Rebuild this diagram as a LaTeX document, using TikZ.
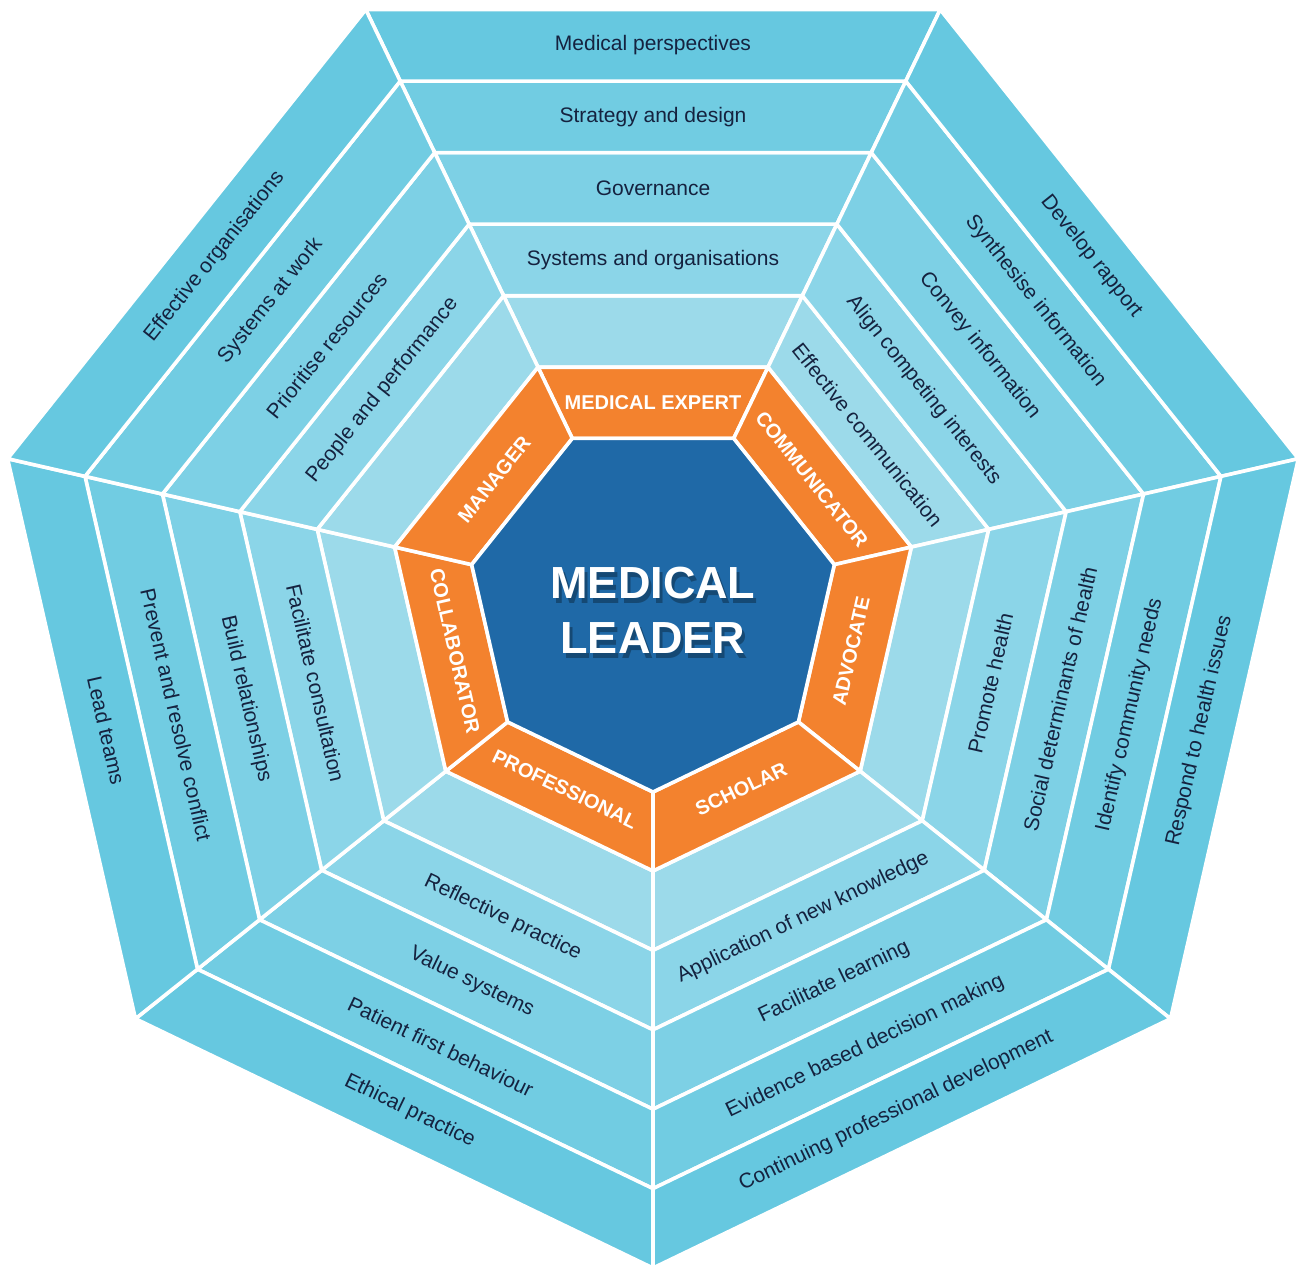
\documentclass[tikz,border=0pt]{standalone}
\usepackage{fontspec}
\setmainfont{Liberation Sans}

\definecolor{ring1}{HTML}{9CDAEA}
\definecolor{ring2}{HTML}{8BD5E8}
\definecolor{ring3}{HTML}{7DD0E5}
\definecolor{ring4}{HTML}{71CCE2}
\definecolor{ring5}{HTML}{66C8E0}
\definecolor{roleorange}{HTML}{F3822E}
\definecolor{leaderblue}{HTML}{1F69A7}
\definecolor{labelnavy}{HTML}{15223F}

\tikzset{
  band/.style={fill=#1, draw=white, line width=1.8pt, line join=miter},
  skill/.style={text=labelnavy, font=\fontsize{10.5}{12}\selectfont, inner sep=0pt},
  role/.style={text=white, font=\bfseries\fontsize{10}{12}\selectfont, inner sep=0pt},
  leader/.style={text=white, font=\bfseries\fontsize{22.5}{27.5}\selectfont, align=center, inner sep=0pt},
}

\begin{document}
\begin{tikzpicture}[x=0.5pt,y=0.5pt]
  \pgfmathsetmacro{\Rin}{186}
  \pgfmathsetmacro{\Ror}{265}
  \pgfmathsetmacro{\dR}{79.4}
  \pgfmathsetmacro{\half}{360/14}
  \useasboundingbox (-653,-659) rectangle (648,606);

  % rings of the seven sectors, orange roles inside
  \foreach \s in {0,...,6}{
    \pgfmathsetmacro{\mid}{90-\s*360/7}
    \foreach \i in {1,...,5}{
      \pgfmathsetmacro{\ra}{\Ror+(\i-1)*\dR}
      \pgfmathsetmacro{\rb}{\Ror+\i*\dR}
      \draw[band=ring\i] ({\mid+\half}:\ra) -- ({\mid-\half}:\ra) -- ({\mid-\half}:\rb) -- ({\mid+\half}:\rb) -- cycle;
    }
    \draw[band=roleorange] ({\mid+\half}:\Rin) -- ({\mid-\half}:\Rin) -- ({\mid-\half}:\Ror) -- ({\mid+\half}:\Ror) -- cycle;
  }
  \draw[band=leaderblue] ({90-\half}:\Rin) \foreach \k in {1,...,6}{ -- ({90-\half-\k*360/7}:\Rin) } -- cycle;

  % skills, sector/ring/text
  \foreach \s/\i/\txt in {0/5/Medical perspectives, 0/4/Strategy and design, 0/3/Governance, 0/2/Systems and organisations,
      1/5/Develop rapport, 1/4/Synthesise information, 1/3/Convey information, 1/2/Align competing interests, 1/1/Effective communication,
      2/5/Respond to health issues, 2/4/Identify community needs, 2/3/Social determinants of health, 2/2/Promote health,
      3/5/Continuing professional development, 3/4/Evidence based decision making, 3/3/Facilitate learning, 3/2/Application of new knowledge,
      4/5/Ethical practice, 4/4/Patient first behaviour, 4/3/Value systems, 4/2/Reflective practice,
      5/5/Lead teams, 5/4/Prevent and resolve conflict, 5/3/Build relationships, 5/2/Facilitate consultation,
      6/5/Effective organisations, 6/4/Systems at work, 6/3/Prioritise resources, 6/2/People and performance}{
    \pgfmathsetmacro{\mid}{mod(90-\s*360/7+540,360)-180}
    \pgfmathsetmacro{\rot}{\mid-90+180*(\mid<0)}
    \pgfmathsetmacro{\ap}{(\Ror+(\i-0.5)*\dR)*cos(\half)}
    \node[skill, rotate=\rot] (skill-\s-\i) at (\mid:\ap) {\txt};
  }

  % roles
  \foreach \s/\txt in {0/MEDICAL EXPERT, 1/COMMUNICATOR, 2/ADVOCATE, 3/SCHOLAR, 4/PROFESSIONAL, 5/COLLABORATOR, 6/MANAGER}{
    \pgfmathsetmacro{\mid}{mod(90-\s*360/7+540,360)-180}
    \pgfmathsetmacro{\rot}{\mid-90+180*(\mid<0)}
    \pgfmathsetmacro{\ap}{(\Rin+\Ror)/2*cos(\half)}
    \node[role, rotate=\rot] (role-\s) at (\mid:\ap) {\txt};
  }

  % centre with soft shadow
  \node[leader, text=black, text opacity=0.3] (leader-shadow) at (3,-9) {MEDICAL\\LEADER};
  \node[leader] (leader) at (0,-4) {MEDICAL\\LEADER};
\end{tikzpicture}
\end{document}
